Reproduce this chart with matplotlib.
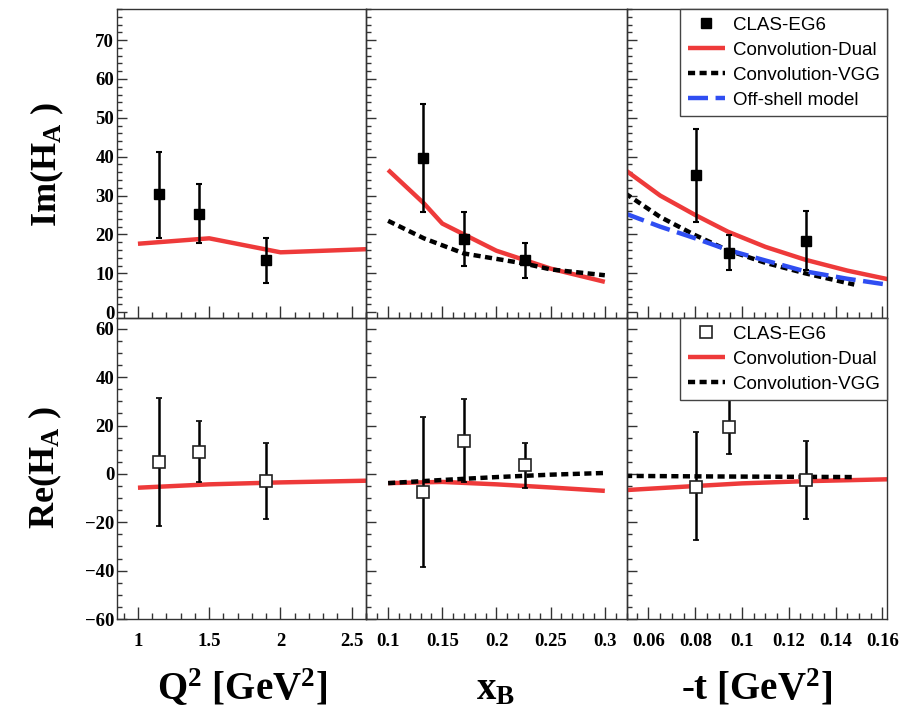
import matplotlib
matplotlib.use("Agg")
import matplotlib.pyplot as plt
from matplotlib.ticker import MultipleLocator, FuncFormatter, FixedLocator

# ---------------- data ----------------
# Im(H_A) vs Q^2
q2_pts = [1.15, 1.43, 1.90]
im_q2_val = [30.3, 25.2, 13.3]
im_q2_lo = [19.1, 17.7, 7.6]
im_q2_hi = [41.3, 32.9, 19.0]
q2_dual_x = [1.0, 1.5, 2.0, 2.6]
im_q2_dual = [17.6, 19.0, 15.4, 16.2]

# Im(H_A) vs xB
xb_pts = [0.132, 0.170, 0.226]
im_xb_val = [39.6, 18.7, 13.5]
im_xb_lo = [25.7, 11.8, 8.8]
im_xb_hi = [53.5, 25.8, 17.9]
xb_dual_x = [0.10, 0.133, 0.15, 0.20, 0.25, 0.30]
im_xb_dual = [36.6, 28.0, 22.8, 15.8, 11.2, 7.8]
xb_vgg_x = [0.10, 0.133, 0.17, 0.226, 0.25, 0.30]
im_xb_vgg = [23.5, 19.0, 15.1, 12.5, 11.0, 9.5]

# Im(H_A) vs -t
t_pts = [0.0804, 0.0943, 0.1272]
im_t_val = [35.3, 15.3, 18.4]
im_t_lo = [23.3, 10.8, 10.8]
im_t_hi = [47.1, 19.8, 26.0]
t_dual_x = [0.05, 0.065, 0.08, 0.094, 0.11, 0.127, 0.145, 0.163]
im_t_dual = [36.6, 30.0, 25.0, 20.7, 16.8, 13.5, 10.7, 8.4]
t_vgg_x = [0.05, 0.065, 0.08, 0.094, 0.11, 0.127, 0.148]
im_t_vgg = [30.6, 24.5, 19.8, 15.9, 12.7, 10.0, 7.1]
t_off_x = [0.05, 0.065, 0.08, 0.094, 0.11, 0.127, 0.145, 0.163]
im_t_off = [25.4, 22.0, 19.0, 16.0, 13.3, 10.5, 8.6, 7.0]

# Re(H_A) vs Q^2
re_q2_val = [4.9, 9.2, -3.1]
re_q2_lo = [-21.7, -3.5, -18.75]
re_q2_hi = [31.25, 21.8, 12.8]
re_q2_dual = [-5.7, -4.3, -3.5, -2.8]

# Re(H_A) vs xB
re_xb_val = [-7.6, 13.5, 3.6]
re_xb_lo = [-38.6, -3.2, -5.9]
re_xb_hi = [23.6, 30.8, 12.8]
re_xb_x = [0.10, 0.15, 0.20, 0.25, 0.30]
re_xb_dual = [-3.8, -3.3, -4.3, -5.6, -7.0]
re_xb_vgg = [-3.8, -2.5, -1.3, -0.3, 0.4]

# Re(H_A) vs -t
re_t_val = [-5.3, 19.4, -2.5]
re_t_lo = [-27.5, 8.2, -18.75]
re_t_hi = [17.4, 30.8, 13.75]
re_t_x = [0.05, 0.08, 0.10, 0.127, 0.163]
re_t_dual = [-6.7, -5.0, -3.9, -3.0, -2.2]
re_t_vgg_x = [0.05, 0.08, 0.10, 0.127, 0.148]
re_t_vgg = [-0.8, -1.0, -1.1, -1.2, -1.3]

q2_ticks = [1, 1.5, 2, 2.5]
xb_ticks = [0.1, 0.15, 0.2, 0.25, 0.3]
t_ticks = [0.06, 0.08, 0.1, 0.12, 0.14, 0.16]
im_ticks = [0, 10, 20, 30, 40, 50, 60, 70]
re_ticks = [-60, -40, -20, 0, 20, 40, 60]

legend_labels = ["CLAS-EG6", "Convolution-Dual", "Convolution-VGG", "Off-shell model"]

# ---------------- style ----------------
RED = "#ee3a3a"
BLUE = "#2f4ef2"
plt.rcParams["mathtext.fontset"] = "custom"
plt.rcParams["mathtext.rm"] = "Liberation Serif:bold"
plt.rcParams["mathtext.it"] = "Liberation Serif:bold"
plt.rcParams["mathtext.bf"] = "Liberation Serif:bold"

W, H = 899, 708
fig = plt.figure(figsize=(W / 100, H / 100), dpi=100)

def fx(p):
    return p / W

def fy(p):
    return 1 - p / H

cols = [(117, 366), (366, 626.5), (626.5, 887)]
rows = [(9, 318), (318, 619)]

xlims = [(0.853, 2.6), (0.0796, 0.32), (0.0506, 0.162)]
xmaj = [q2_ticks, xb_ticks, t_ticks]
xmin = [0.1, 0.01, 0.005]
ylims = [(-1.5, 78.0), (-60, 64.5)]
ymaj = [im_ticks, re_ticks]
ymin = [2, 5]

fmt = FuncFormatter(lambda v, p: ("%g" % v).replace("-", "\u2212"))

axes = [[None] * 3 for _ in range(2)]
for r, (yt, yb) in enumerate(rows):
    for c, (xl, xr) in enumerate(cols):
        ax = fig.add_axes([fx(xl), fy(yb), fx(xr - xl), (yb - yt) / H])
        axes[r][c] = ax
        ax.set_xlim(*xlims[c])
        ax.set_ylim(*ylims[r])
        ax.xaxis.set_major_locator(FixedLocator(xmaj[c]))
        ax.xaxis.set_minor_locator(MultipleLocator(xmin[c]))
        ax.yaxis.set_major_locator(FixedLocator(ymaj[r]))
        ax.yaxis.set_minor_locator(MultipleLocator(ymin[r]))
        ax.tick_params(which="both", direction="in", top=False, right=False,
                       color="#333333", width=1.0)
        ax.tick_params(axis="x", which="major", length=9)
        ax.tick_params(axis="x", which="minor", length=4.5)
        ax.tick_params(axis="y", which="major", length=7)
        ax.tick_params(axis="y", which="minor", length=3.5)
        ax.xaxis.set_major_formatter(fmt)
        ax.yaxis.set_major_formatter(fmt)
        for lab in ax.get_xticklabels() + ax.get_yticklabels():
            lab.set_fontfamily("Liberation Serif")
            lab.set_fontweight("bold")
            lab.set_fontsize(13.5)
        ax.tick_params(axis="x", pad=10)
        ax.tick_params(axis="y", pad=2)
        if r == 0:
            ax.tick_params(axis="x", labelbottom=False)
        if c != 0:
            ax.tick_params(axis="y", labelleft=False)
        for s in ax.spines.values():
            s.set_color("#333333")
            s.set_linewidth(1.0)
        ax.set_facecolor("none")

LW = 3.2
vgg_ls = (0, (1.6, 1.0))
off_ls = (0, (4.5, 1.7))
mk = dict(fmt="s", color="black", ms=6.5, elinewidth=1.8, capsize=2, capthick=1.5, zorder=5)

def yerr(val, lo, hi):
    return [[v - l for v, l in zip(val, lo)], [h - v for v, h in zip(val, hi)]]

leg_kw = dict(loc="upper right", bbox_to_anchor=(1.0, 1.0), borderaxespad=0,
              fancybox=False, prop={"family": "Liberation Sans", "size": 13.5},
              handlelength=2.0, handletextpad=0.4, labelspacing=0.42,
              borderpad=0.4, framealpha=1)

# top row
a = axes[0][0]
a.plot(q2_dual_x, im_q2_dual, color=RED, lw=LW, solid_capstyle="butt")
a.errorbar(q2_pts, im_q2_val, yerr=yerr(im_q2_val, im_q2_lo, im_q2_hi), **mk)

a = axes[0][1]
a.plot(xb_dual_x, im_xb_dual, color=RED, lw=LW, solid_capstyle="butt")
a.plot(xb_vgg_x, im_xb_vgg, color="black", lw=LW, ls=vgg_ls)
a.errorbar(xb_pts, im_xb_val, yerr=yerr(im_xb_val, im_xb_lo, im_xb_hi), **mk)

a = axes[0][2]
h_dual, = a.plot(t_dual_x, im_t_dual, color=RED, lw=LW, solid_capstyle="butt")
h_vgg, = a.plot(t_vgg_x, im_t_vgg, color="black", lw=LW, ls=vgg_ls)
h_off, = a.plot(t_off_x, im_t_off, color=BLUE, lw=LW, ls=off_ls)
a.errorbar(t_pts, im_t_val, yerr=yerr(im_t_val, im_t_lo, im_t_hi), **mk)
h_mark, = a.plot([], [], "s", color="black", ms=6.5)
leg = a.legend([h_mark, h_dual, h_vgg, h_off], legend_labels, **leg_kw)
leg.get_frame().set_edgecolor("#444444")
leg.get_frame().set_linewidth(1.0)

# bottom row
mko = dict(mk)
mko.update(mfc="white", mec="#222222", mew=1.2, ms=8)
a = axes[1][0]
a.plot(q2_dual_x, re_q2_dual, color=RED, lw=LW, solid_capstyle="butt")
a.errorbar(q2_pts, re_q2_val, yerr=yerr(re_q2_val, re_q2_lo, re_q2_hi), **mko)

a = axes[1][1]
a.plot(re_xb_x, re_xb_dual, color=RED, lw=LW, solid_capstyle="butt")
a.plot(re_xb_x, re_xb_vgg, color="black", lw=LW, ls=vgg_ls)
a.errorbar(xb_pts, re_xb_val, yerr=yerr(re_xb_val, re_xb_lo, re_xb_hi), **mko)

a = axes[1][2]
b_dual, = a.plot(re_t_x, re_t_dual, color=RED, lw=LW, solid_capstyle="butt")
b_vgg, = a.plot(re_t_vgg_x, re_t_vgg, color="black", lw=LW, ls=vgg_ls)
a.errorbar(t_pts, re_t_val, yerr=yerr(re_t_val, re_t_lo, re_t_hi), **mko)
b_mark, = a.plot([], [], "s", mfc="white", mec="#222222", mew=1.2, ms=8)
leg2 = a.legend([b_mark, b_dual, b_vgg], legend_labels[:3], **leg_kw)
leg2.get_frame().set_edgecolor("#444444")
leg2.get_frame().set_linewidth(1.0)

# axis titles
big = dict(fontfamily="Liberation Serif", fontweight="bold", ha="center", va="center")
fig.text(fx(47), fy(164), r"Im(H$_{A}$ )", rotation=90, fontsize=26, **big)
fig.text(fx(45), fy(467), r"Re(H$_{A}$ )", rotation=90, fontsize=26, **big)
fig.text(fx(242), fy(688), r"Q$^{2}$ [GeV$^{2}$]", fontsize=28, **big)
fig.text(fx(496), fy(690), r"x$_{B}$", fontsize=28, **big)
fig.text(fx(757), fy(688), r"-t [GeV$^{2}$]", fontsize=28, **big)

fig.savefig("out.png", dpi=100)
